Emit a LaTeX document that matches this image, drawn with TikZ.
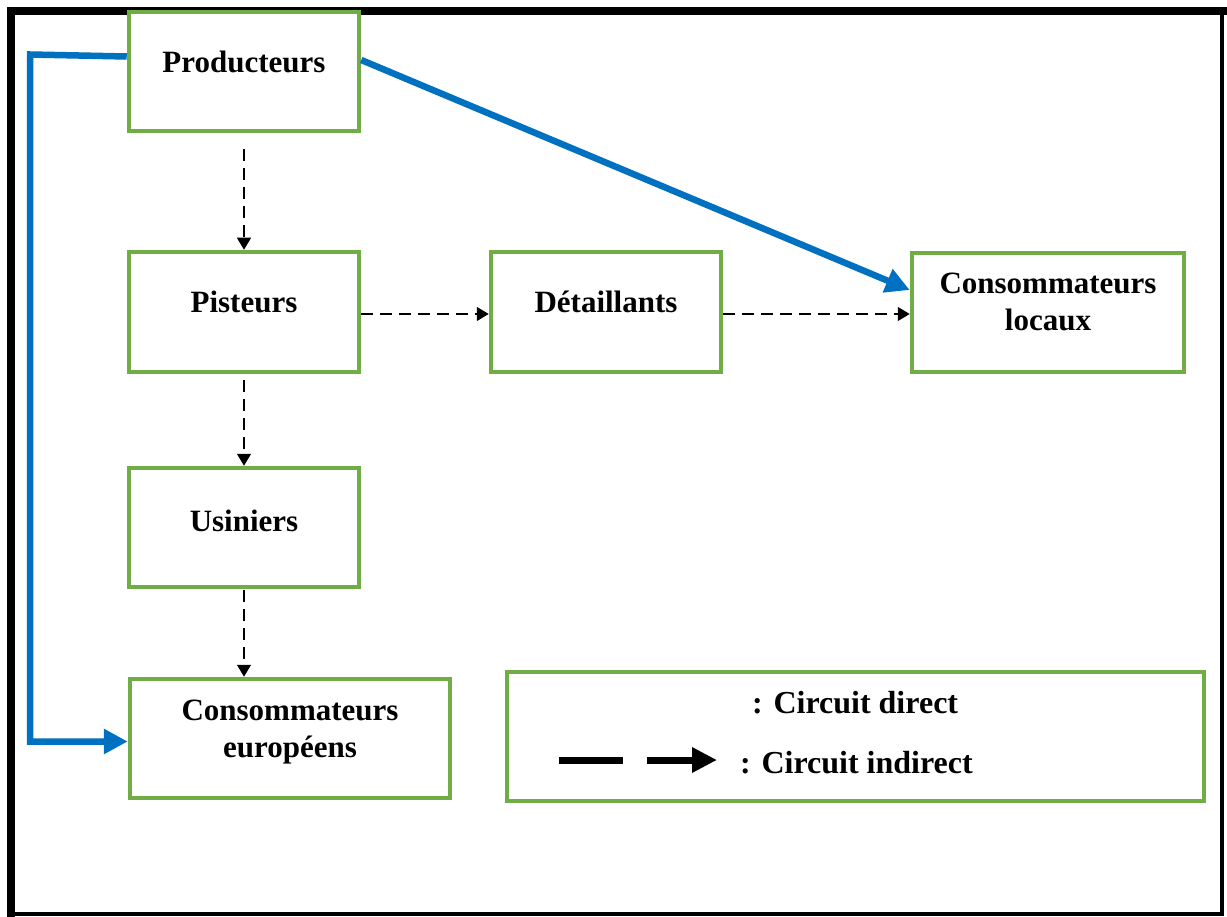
\documentclass[tikz,border=0pt]{standalone}
\usepackage{fontspec}
\setmainfont{Liberation Serif}
\usetikzlibrary{arrows.meta}
\definecolor{gboxc}{HTML}{70AD47}
\definecolor{bluec}{HTML}{0070C0}
\tikzset{
  gbox/.style={draw=gboxc, line width=4.5pt, rectangle, inner sep=0pt, fill=white},
  lbl/.style={font=\bfseries\fontsize{31}{37}\selectfont, inner sep=0pt, align=center},
  leglbl/.style={font=\bfseries\fontsize{32}{38}\selectfont, inner sep=0pt, anchor=base west},
  direct/.style={draw=bluec, line width=6.5pt, line join=miter, -{Triangle[length=24pt,width=24pt]}},
  indirect/.style={draw=black, line width=1.4pt, dash pattern=on 12pt off 7pt, -{Triangle[length=12pt,width=14pt]}},
}
\begin{document}
\begin{tikzpicture}[x=1pt,y=-1pt]
\useasboundingbox (0,0) rectangle (1227,917);
\fill[white] (0,0) rectangle (1227,917);
% outer frame
\draw[line width=8pt] (11,917) -- (11,11) -- (1227,11);
\draw[line width=4pt] (1222,11) -- (1222,914) -- (11,914);
% boxes
\node[gbox, minimum width=230pt, minimum height=119pt] (prod) at (244,71.5) {};
\node[gbox, minimum width=230pt, minimum height=120pt] (pist) at (244,312) {};
\node[gbox, minimum width=230pt, minimum height=120pt] (det) at (606,312) {};
\node[gbox, minimum width=272pt, minimum height=119pt] (loc) at (1048,312.5) {};
\node[gbox, minimum width=230pt, minimum height=119pt] (usin) at (244,527.5) {};
\node[gbox, minimum width=320pt, minimum height=119pt] (eur) at (290,738.5) {};
\node[gbox, minimum width=697pt, minimum height=129pt] (leg) at (855.5,736.5) {};
% texts
\node[lbl, anchor=base] (tprod) at (244,73) {Producteurs};
\node[lbl, anchor=base] (tpist) at (244,312.5) {Pisteurs};
\node[lbl, anchor=base] (tdet) at (606,312.5) {Détaillants};
\node[lbl, anchor=base] (tusin) at (244,531) {Usiniers};
\node[lbl, anchor=base] (tloc) at (1048,331) {Consommateurs\\locaux};
\node[lbl, anchor=base] (teur) at (290,757) {Consommateurs\\européens};
\node[leglbl] (tdir) at (752,713) {: Circuit direct};
\node[leglbl] (tind) at (740,773) {: Circuit indirect};
% direct circuit (blue)
\coordinate (c1) at (30,54.5);
\coordinate (e1) at ([yshift=-3pt]eur.west);
\draw[direct] ([yshift=15pt]prod.west) -- (c1) -- (c1 |- e1) -- (e1);
\draw[direct] ([yshift=11.5pt]prod.east) -- ([yshift=22.5pt]loc.west);
% indirect circuit (dashed)
\draw[indirect, shorten <=16pt] (prod.south) -- (pist.north);
\draw[indirect, shorten <=6pt] (pist.south) -- (usin.north);
\draw[indirect, shorten <=1pt] (usin.south) -- (usin.south |- eur.north);
\draw[indirect] ([yshift=-2pt]pist.east) -- ([yshift=-2pt]det.west);
\draw[indirect] ([yshift=-2pt]det.east) -- ([yshift=-2pt]det.east -| loc.west);
% legend symbol
\coordinate (l1) at (559,760);
\coordinate (l2) at (623,760);
\coordinate (l3) at (647,760);
\coordinate (l4) at (717,760);
\draw[line width=7pt] (l1) -- (l2);
\draw[line width=7pt, -{Triangle[length=25pt,width=24pt]}] (l3) -- (l4);
\end{tikzpicture}
\end{document}
